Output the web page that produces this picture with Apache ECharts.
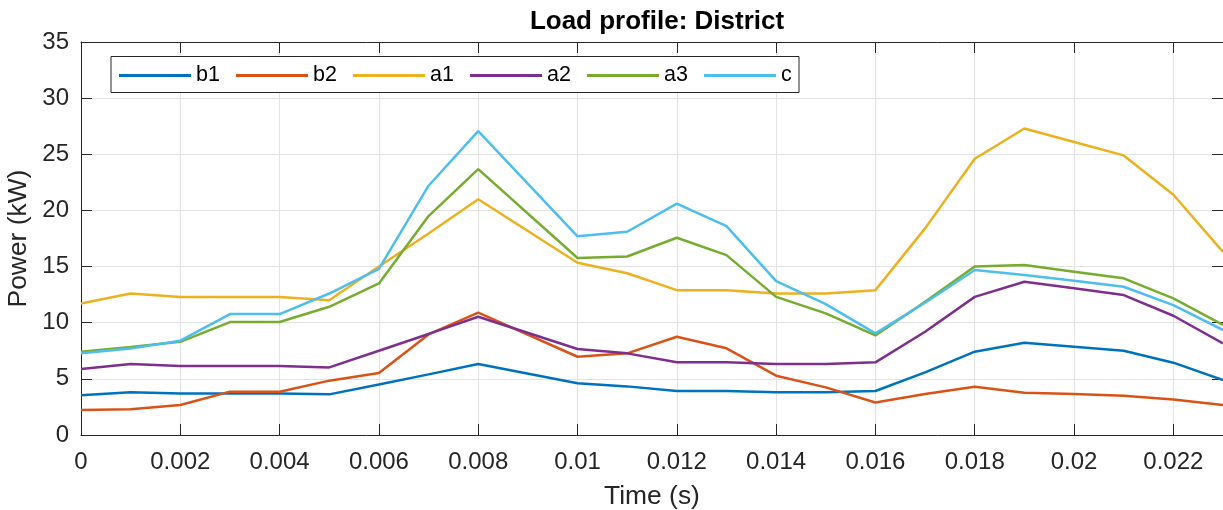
<!DOCTYPE html>
<html>
<head>
<meta charset="utf-8">
<script src="https://cdn.jsdelivr.net/npm/echarts@6/dist/echarts.min.js"></script>
<style>
html,body{margin:0;padding:0;background:#fff;}
#chart{width:1223px;height:510px;}
</style>
</head>
<body>
<div id="chart"></div>
<script>
// Time stamps (s)
const times = [0,0.001,0.002,0.003,0.004,0.005,0.006,0.007,0.008,0.010,0.011,0.012,0.013,0.014,0.015,0.016,0.017,0.018,0.019,0.020,0.021,0.022,0.023];
// Power (kW) per load
const b1 = [3.53,3.8,3.7,3.7,3.7,3.62,4.5,5.4,6.32,4.6,4.33,3.92,3.92,3.8,3.8,3.92,5.58,7.42,8.22,7.86,7.5,6.44,4.9];
const b2 = [2.23,2.3,2.67,3.86,3.86,4.84,5.52,8.96,10.9,6.97,7.27,8.75,7.72,5.28,4.24,2.9,3.65,4.3,3.77,3.65,3.5,3.17,2.67];
const a1 = [11.72,12.6,12.3,12.3,12.3,12.0,15.0,17.95,21.0,15.34,14.4,12.9,12.9,12.6,12.6,12.9,18.4,24.6,27.3,26.1,24.9,21.4,16.3];
const a2 = [5.88,6.32,6.14,6.14,6.14,6.02,7.5,9.0,10.53,7.66,7.27,6.47,6.47,6.32,6.32,6.47,9.2,12.3,13.65,13.06,12.46,10.62,8.16];
const a3 = [7.42,7.83,8.3,10.06,10.06,11.42,13.5,19.5,23.68,15.76,15.9,17.57,16.02,12.3,10.83,8.87,11.87,15.0,15.13,14.54,13.95,12.17,9.8];
const c  = [7.27,7.7,8.4,10.77,10.77,12.6,14.8,22.2,27.06,17.69,18.1,20.6,18.6,13.7,11.66,9.05,11.78,14.69,14.24,13.74,13.2,11.57,9.35];
const seriesNames = ['b1','b2','a1','a2','a3','c'];
const seriesValues = [b1,b2,a1,a2,a3,c];
const colors = ['#0072BD','#D95319','#EDB120','#7E2F8E','#77AC30','#4DBEEE'];

const FONT = '"Liberation Sans", Arial, Helvetica, sans-serif';
const AX = '#262626';
const GRID = '#e3e3e3';

function xFmt(v){
  const k = Math.round(v/0.002);
  if (Math.abs(k*0.002 - v) > 1e-9) return '';
  return String(+(k*0.002).toFixed(3));
}

const chart = echarts.init(document.getElementById('chart'), null, {renderer:'canvas'});
chart.setOption({
  animation:false,
  backgroundColor:'#fff',
  textStyle:{fontFamily:FONT},
  title:{
    text:'Load profile: District',
    left:652, textAlign:'center', top:4,
    textStyle:{fontFamily:FONT, fontSize:26, fontWeight:'bold', color:'#000'}
  },
  grid:{left:81, right:0, top:42, bottom:75, containLabel:false, outerBoundsMode:'none'},
  legend:{
    left:111, top:56.5,
    orient:'horizontal',
    itemWidth:72, itemHeight:3, itemGap:0,
    icon:'rect',
    padding:[7,7,5,8],
    borderColor:AX, borderWidth:1, backgroundColor:'#fff',
    textStyle:{fontFamily:FONT, fontSize:21.5, color:'#000', width:40, lineHeight:24},
    data: seriesNames.map(n => n === 'c' ? {name:n, textStyle:{width:11}} : {name:n})
  },
  xAxis:[{
    type:'value', min:0, max:0.023, interval:0.002, position:'bottom',
    axisLine:{show:true, onZero:false, lineStyle:{color:AX, width:1}},
    axisTick:{show:true, inside:true, length:11, lineStyle:{color:AX}},
    splitLine:{show:true, lineStyle:{color:GRID, width:1}},
    axisLabel:{fontFamily:FONT, fontSize:24, color:AX, margin:15, formatter:xFmt, showMaxLabel:false},
    name:'Time (s)', nameLocation:'middle', nameGap:49,
    nameTextStyle:{fontFamily:FONT, fontSize:26.4, color:AX}
  },{
    type:'value', min:0, max:0.023, interval:0.002, position:'top',
    axisLine:{show:true, onZero:false, lineStyle:{color:AX, width:1}},
    axisTick:{show:true, inside:true, length:11, lineStyle:{color:AX}},
    splitLine:{show:false}, axisLabel:{show:false}
  }],
  yAxis:[{
    type:'value', min:0, max:35, interval:5, position:'left',
    axisLine:{show:true, onZero:false, lineStyle:{color:AX, width:1}},
    axisTick:{show:true, inside:true, length:11, lineStyle:{color:AX}},
    splitLine:{show:true, lineStyle:{color:GRID, width:1}},
    axisLabel:{fontFamily:FONT, fontSize:24, color:AX, margin:12},
    name:'Power (kW)', nameLocation:'middle', nameGap:47, nameRotate:90,
    nameTextStyle:{fontFamily:FONT, fontSize:26.4, color:AX}
  },{
    type:'value', min:0, max:35, interval:5, position:'right',
    axisLine:{show:true, onZero:false, lineStyle:{color:AX, width:1}},
    axisTick:{show:true, inside:true, length:11, lineStyle:{color:AX}},
    splitLine:{show:false}, axisLabel:{show:false}
  }],
  series: seriesNames.map((n,i)=>({
    name:n, type:'line', xAxisIndex:0, yAxisIndex:0,
    data: times.map((t,j)=>[t, seriesValues[i][j]]),
    symbol:'none', showSymbol:false,
    lineStyle:{color:colors[i], width:2.5},
    itemStyle:{color:colors[i]},
    emphasis:{disabled:true}
  }))
});
</script>
</body>
</html>
